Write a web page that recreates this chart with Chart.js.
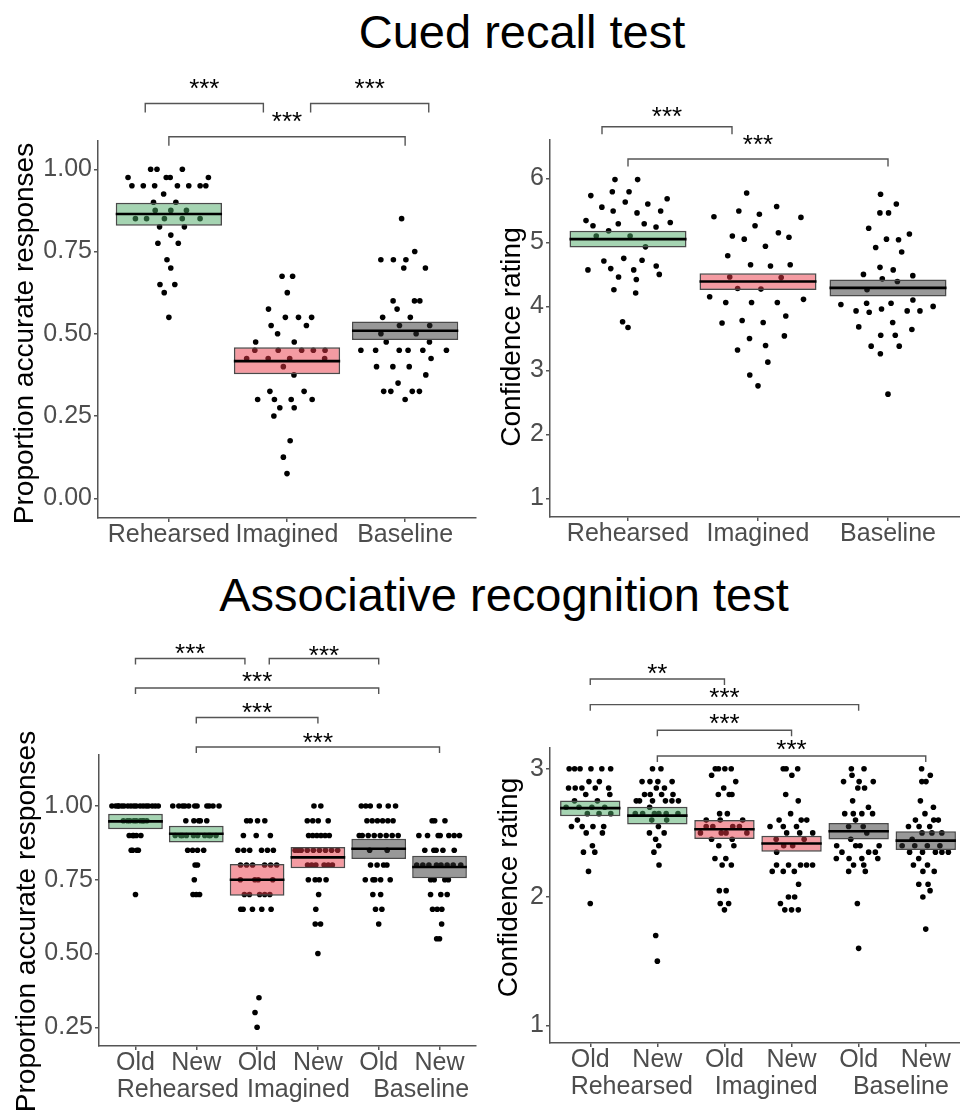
<!DOCTYPE html>
<html><head><meta charset="utf-8">
<script src="https://cdn.jsdelivr.net/npm/chart.js@4/dist/chart.umd.min.js"></script>
<style>
html,body{margin:0;padding:0;width:960px;height:1112px;overflow:hidden;background:#fff;}
body{position:relative;font-family:"Liberation Sans",Arial,sans-serif;}
.title{position:absolute;font-size:47px;line-height:47px;color:#000;white-space:nowrap;text-align:center;}
canvas{position:absolute;}
</style></head><body>
<div class="title" style="left:0;width:1044px;top:8px;">Cued recall test</div>
<div class="title" style="left:0;width:1008px;top:571px;">Associative recognition test</div>
<canvas id="c1" width="480" height="500" style="left:0;top:60px;width:480px;height:500px"></canvas>
<canvas id="c2" width="490" height="500" style="left:480px;top:60px;width:490px;height:500px"></canvas>
<canvas id="c3" width="480" height="492" style="left:0;top:620px;width:480px;height:492px"></canvas>
<canvas id="c4" width="490" height="492" style="left:480px;top:620px;width:490px;height:492px"></canvas>
<script>
// ---------- categories & tick labels ----------
const recallCats = ['Rehearsed','Imagined','Baseline'];
const recogCats = ['Old','New','Old','New','Old','New'];
const recogGroupLabels = ['Rehearsed','Imagined','Baseline'];
const accRecallTicks = [0, 0.25, 0.5, 0.75, 1.0];
const confRecallTicks = [1, 2, 3, 4, 5, 6];
const accRecogTicks = [0.25, 0.5, 0.75, 1.0];
const confRecogTicks = [1, 2, 3];

// ---------- Cued recall: proportion accurate ----------
const accRecallRehearsed = [1.0,1.0,1.0,0.975,0.975,0.975,0.975,0.95,0.95,0.95,0.95,0.95,0.95,0.95,0.925,0.9,0.9,0.875,0.875,0.875,0.85,0.85,0.85,0.85,0.85,0.825,0.825,0.8,0.775,0.775,0.725,0.7,0.65,0.65,0.625,0.55];
const accRecallImagined = [0.675,0.675,0.625,0.575,0.55,0.55,0.55,0.525,0.525,0.5,0.475,0.475,0.45,0.45,0.45,0.45,0.45,0.425,0.425,0.425,0.425,0.4,0.375,0.325,0.325,0.3,0.3,0.3,0.3,0.275,0.275,0.25,0.175,0.125,0.075];
const accRecallBaseline = [0.85,0.75,0.725,0.725,0.725,0.7,0.7,0.6,0.6,0.6,0.575,0.55,0.55,0.525,0.525,0.5,0.5,0.475,0.475,0.45,0.45,0.45,0.45,0.45,0.45,0.425,0.4,0.4,0.4,0.375,0.35,0.325,0.325,0.325,0.325,0.3];
const accRecallMean = [0.864, 0.417, 0.509];
const accRecallLow  = [0.828, 0.377, 0.481];
const accRecallHigh = [0.898, 0.459, 0.537];

// ---------- Cued recall: confidence ----------
const confRecallRehearsed = [5.98,5.98,5.79,5.79,5.73,5.68,5.63,5.60,5.55,5.49,5.49,5.46,5.34,5.31,5.29,5.29,5.26,5.24,5.18,5.10,5.10,4.93,4.75,4.72,4.71,4.63,4.59,4.57,4.57,4.50,4.46,4.42,4.26,4.21,3.76,3.67];
const confRecallImagined = [5.77,5.56,5.49,5.44,5.40,5.39,5.26,5.15,5.10,5.08,5.05,4.94,4.79,4.65,4.63,4.65,4.46,4.45,4.28,4.27,4.15,4.11,4.06,4.06,4.06,3.85,3.78,3.75,3.74,3.54,3.50,3.39,3.32,3.13,2.93,2.76];
const confRecallBaseline = [5.75,5.60,5.46,5.46,5.22,5.13,5.05,5.04,4.92,4.85,4.61,4.57,4.50,4.48,4.43,4.39,4.26,4.10,4.05,4.05,4.03,4.00,3.96,3.93,3.93,3.93,3.91,3.75,3.68,3.64,3.55,3.55,3.38,3.38,3.26,2.63];
const confRecallMean = [5.05, 4.39, 4.29];
const confRecallLow  = [4.92, 4.255, 4.156];
const confRecallHigh = [5.18, 4.516, 4.42];

// ---------- Associative recognition: proportion accurate ----------
const accRecogOldRehearsed = [1,1,1,1,1,1,1,1,1,1,1,1,1,1,1,1,1,0.95,0.95,0.95,0.95,0.95,0.95,0.95,0.95,0.95,0.9,0.9,0.9,0.9,0.9,0.85,0.85,0.85,0.85,0.7];
const accRecogNewRehearsed = [1,1,1,1,1,1,1,1,1,1,1,0.95,0.95,0.95,0.95,0.95,0.9,0.9,0.9,0.9,0.9,0.9,0.9,0.9,0.9,0.9,0.85,0.85,0.85,0.85,0.8,0.8,0.75,0.7,0.7,0.7];
const accRecogOldImagined = [0.95,0.95,0.95,0.95,0.9,0.9,0.9,0.85,0.85,0.85,0.85,0.85,0.85,0.8,0.8,0.8,0.8,0.8,0.8,0.75,0.75,0.75,0.75,0.7,0.7,0.7,0.7,0.7,0.65,0.65,0.65,0.65,0.65,0.35,0.3,0.25];
const accRecogNewImagined = [1,1,0.95,0.95,0.95,0.95,0.9,0.9,0.9,0.9,0.9,0.9,0.85,0.85,0.85,0.85,0.85,0.85,0.85,0.85,0.85,0.8,0.8,0.8,0.8,0.8,0.8,0.75,0.75,0.75,0.75,0.7,0.65,0.6,0.6,0.5];
const accRecogOldBaseline = [1,1,1,1,1,1,0.95,0.95,0.95,0.95,0.95,0.95,0.9,0.9,0.9,0.9,0.9,0.9,0.9,0.9,0.85,0.85,0.8,0.8,0.8,0.8,0.75,0.75,0.75,0.75,0.75,0.7,0.7,0.65,0.65,0.6];
const accRecogNewBaseline = [0.95,0.95,0.95,0.9,0.9,0.9,0.9,0.9,0.9,0.9,0.85,0.85,0.85,0.85,0.85,0.8,0.8,0.8,0.8,0.8,0.8,0.8,0.8,0.75,0.75,0.75,0.75,0.7,0.7,0.7,0.65,0.65,0.65,0.6,0.55,0.55];
const accRecogMean = [0.948, 0.906, 0.750, 0.826, 0.855, 0.793];
const accRecogLow  = [0.921, 0.876, 0.696, 0.789, 0.820, 0.755];
const accRecogHigh = [0.974, 0.933, 0.803, 0.861, 0.889, 0.831];

// ---------- Associative recognition: confidence ----------
const confRecogOldRehearsed = [3,3,3,3,3,3,2.9,2.9,2.85,2.85,2.85,2.85,2.85,2.8,2.8,2.75,2.75,2.7,2.7,2.7,2.7,2.65,2.65,2.65,2.6,2.55,2.55,2.55,2.55,2.5,2.5,2.4,2.35,2.35,2.2,1.95];
const confRecogNewRehearsed = [3,3,2.9,2.9,2.9,2.9,2.85,2.85,2.8,2.8,2.8,2.8,2.75,2.75,2.75,2.75,2.75,2.75,2.7,2.65,2.65,2.65,2.65,2.65,2.65,2.6,2.6,2.55,2.5,2.5,2.45,2.4,2.35,2.25,1.7,1.5];
const confRecogOldImagined = [3,3,3,3,2.95,2.9,2.85,2.8,2.8,2.8,2.65,2.65,2.6,2.6,2.6,2.55,2.55,2.55,2.55,2.5,2.5,2.5,2.5,2.45,2.45,2.4,2.4,2.3,2.3,2.25,2.25,2.05,2.05,1.95,1.95,1.9];
const confRecogNewImagined = [3,3,3,2.95,2.8,2.75,2.65,2.6,2.6,2.6,2.55,2.55,2.55,2.5,2.5,2.5,2.45,2.45,2.4,2.4,2.35,2.25,2.25,2.25,2.25,2.25,2.2,2.2,2.2,2.1,2.0,2.0,1.95,1.9,1.9,1.9];
const confRecogOldBaseline = [3,3,2.95,2.9,2.9,2.9,2.85,2.85,2.75,2.7,2.65,2.65,2.65,2.65,2.6,2.55,2.55,2.5,2.45,2.4,2.4,2.4,2.4,2.35,2.35,2.35,2.3,2.3,2.3,2.3,2.25,2.25,2.2,2.2,1.95,1.6];
const confRecogNewBaseline = [3,2.95,2.9,2.9,2.75,2.7,2.65,2.6,2.6,2.6,2.55,2.55,2.55,2.5,2.5,2.5,2.45,2.4,2.4,2.4,2.4,2.35,2.35,2.35,2.35,2.35,2.3,2.25,2.25,2.2,2.2,2.1,2.1,2.05,2.0,1.75];
const confRecogMean = [2.693, 2.635, 2.529, 2.417, 2.513, 2.440];
const confRecogLow  = [2.630, 2.565, 2.453, 2.354, 2.448, 2.367];
const confRecogHigh = [2.753, 2.703, 2.600, 2.477, 2.578, 2.513];

// ---------- styling ----------
const FONT = '"Liberation Sans", Arial, sans-serif';
Chart.defaults.font.family = FONT;
const GREEN = 'rgba(75,169,101,0.5)', RED = 'rgba(233,55,69,0.5)', GREY = 'rgba(49,49,49,0.5)';
const AXIS = '#555555', TICKTXT = '#4d4d4d';
const TICKSIZE = 25;

// ---------- quasirandom (vipor-style) horizontal offsets ----------
function vdc(i){ let q=0, b=0.5; while(i>0){ q += (i%2)*b; i=Math.floor(i/2); b/=2; } return q; }
function q7(s,p){ const h=(s.length-1)*p, lo=Math.floor(h), hi=Math.ceil(h); return s[lo]+(h-lo)*(s[hi]-s[lo]); }
function quasiOffsets(vals, width, adjust){
  const n = vals.length; if (n < 2) return vals.map(()=>0);
  const mean = vals.reduce((a,b)=>a+b,0)/n;
  const sd = Math.sqrt(vals.reduce((a,b)=>a+(b-mean)*(b-mean),0)/(n-1));
  const s = [...vals].sort((a,b)=>a-b);
  const iqr = q7(s,0.75)-q7(s,0.25);
  let lo = Math.min(sd, iqr/1.34); if (!(lo>0)) lo = sd || 1;
  const bw = 0.9*lo*Math.pow(n,-0.2)*adjust;
  const dens = y => vals.reduce((a,v)=>a+Math.exp(-0.5*((y-v)/bw)*((y-v)/bw)),0);
  let maxD = 0; const a0 = s[0]-3*bw, a1 = s[n-1]+3*bw;
  for (let i=0;i<=1024;i++) maxD = Math.max(maxD, dens(a0+(a1-a0)*i/1024));
  vals.forEach(v=>{ maxD = Math.max(maxD, dens(v)); });
  const idx = vals.map((v,i)=>i).sort((a,b)=>(vals[a]-vals[b]) || (a-b));
  const rank = new Array(n); idx.forEach((k,r)=>{ rank[k]=r+1; });
  return vals.map((v,i)=>(vdc(rank[i])*2-1)*width*dens(v)/maxD);
}

function makePanel(cfg){
  const dotSets = cfg.series.map((vals,g)=>{
    const off = quasiOffsets(vals, 0.4, 0.5);
    return { type:'scatter', data: vals.map((v,i)=>({x:g+1+off[i], y:v})),
      pointRadius:2.8, pointBackgroundColor:'#000', pointBorderWidth:0, order:3 };
  });
  const boxSet = { type:'bar', data: cfg.means.map((m,i)=>({x:i+1, y:[cfg.low[i], cfg.high[i]]})),
    backgroundColor: cfg.colors, borderColor:'#4a4a4a', borderWidth:1.5, borderSkipped:false,
    categoryPercentage:1, barPercentage:0.9, grouped:false, order:2 };
  const meanSet = { type:'scatter', data: cfg.means.map((m,i)=>({x:i+1, y:m})),
    pointStyle:'line', pointBorderColor:'#000', pointBorderWidth:2.6,
    pointRadius: (c)=>{ const s=c.chart.scales.x; return Math.abs(s.getPixelForValue(1.45)-s.getPixelForValue(1)); },
    order:1 };

  const scales = {
    x: { type:'linear', axis:'x', position:'bottom', weight:0, offset:false, min:cfg.xMin, max:cfg.xMax,
      afterBuildTicks: s=>{ s.ticks = cfg.cats.map((c,i)=>({value:i+1})); },
      afterFit: s=>{ s.height = cfg.xHeight; },
      ticks:{ autoSkip:false, maxRotation:0, minRotation:0, padding:1, color:TICKTXT,
        font:{size:TICKSIZE, lineHeight:1}, callback:(v)=>cfg.cats[Math.round(v)-1] },
      grid:{ offset:false, drawOnChartArea:false, drawTicks:true, tickLength:4, color:AXIS, lineWidth:1.5 },
      border:{ display:true, color:AXIS, width:1.5 } },
    y: { type:'linear', position:'left', offset:false, min:cfg.yMin, max:cfg.yMax, beginAtZero:false,
      afterBuildTicks: s=>{ s.ticks = cfg.yTicks.map(v=>({value:v})); },
      afterFit: s=>{ s.width = cfg.yWidth; },
      ticks:{ padding:2, color:TICKTXT, font:{size:TICKSIZE}, callback:(v)=>cfg.yFmt(v) },
      grid:{ offset:false, drawOnChartArea:false, drawTicks:true, tickLength:4, color:AXIS, lineWidth:1.5 },
      border:{ display:true, color:AXIS, width:1.5 } }
  };
  if (cfg.groupLabels){
    scales.x2 = { type:'linear', axis:'x', position:'bottom', weight:1, offset:false, min:cfg.xMin, max:cfg.xMax,
      afterBuildTicks: s=>{ s.ticks = cfg.groupPos.map(v=>({value:v})); },
      afterFit: s=>{ s.height = cfg.x2Height; },
      ticks:{ autoSkip:false, maxRotation:0, minRotation:0, padding:4, color:TICKTXT,
        font:{size:TICKSIZE, lineHeight:1}, callback:(v,i)=>cfg.groupLabels[i] },
      grid:{ display:false, offset:false, drawOnChartArea:false, drawTicks:false },
      border:{ display:false } };
  }

  const annot = {
    id:'annot'+cfg.id,
    afterDraw(chart){
      const ctx = chart.ctx, xs = chart.scales.x, ys = chart.scales.y;
      ctx.save();
      // significance brackets
      ctx.strokeStyle = '#555'; ctx.lineWidth = 1.4;
      ctx.fillStyle = '#000'; ctx.font = '26px ' + FONT;
      ctx.textAlign = 'center'; ctx.textBaseline = 'alphabetic';
      cfg.brackets.forEach(b=>{
        const x1 = xs.getPixelForValue(b.x1), x2 = xs.getPixelForValue(b.x2), yy = ys.getPixelForValue(b.y);
        ctx.beginPath(); ctx.moveTo(x1, yy+cfg.tip); ctx.lineTo(x1, yy); ctx.lineTo(x2, yy); ctx.lineTo(x2, yy+cfg.tip); ctx.stroke();
        const m = ctx.measureText(b.label);
        const c = (m.actualBoundingBoxAscent - m.actualBoundingBoxDescent)/2;
        ctx.fillText(b.label, (x1+x2)/2, yy - b.dy + c);
      });
      // y-axis title
      ctx.font = '28px ' + FONT; ctx.fillStyle = '#000';
      ctx.translate(cfg.yTitleX, cfg.yTitleY); ctx.rotate(-Math.PI/2);
      ctx.textAlign = 'center'; ctx.textBaseline = 'alphabetic';
      ctx.fillText(cfg.yTitle, 0, 0);
      ctx.restore();
    }
  };

  new Chart(document.getElementById(cfg.canvas), {
    type:'scatter',
    data:{ datasets:[...dotSets, boxSet, meanSet] },
    options:{ responsive:false, animation:false, events:[],
      layout:{ padding: cfg.padding },
      plugins:{ legend:{display:false}, tooltip:{enabled:false} },
      scales },
    plugins:[annot]
  });
}

const fmt2 = v => v.toFixed(2), fmt0 = v => String(v);

makePanel({ id:1, canvas:'c1', cats:recallCats,
  series:[accRecallRehearsed, accRecallImagined, accRecallBaseline],
  means:accRecallMean, low:accRecallLow, high:accRecallHigh, colors:[GREEN,RED,GREY],
  xMin:0.4, xMax:3.6, yMin:-0.06, yMax:1.086, yTicks:accRecallTicks, yFmt:fmt2,
  padding:{top:81, right:1, left:0, bottom:0}, yWidth:98, xHeight:42,
  yTitle:'Proportion accurate responses', yTitleX:33.3, yTitleY:273.5, tip:9,
  brackets:[ {x1:0.8,x2:1.8,y:1.2,label:'***',dy:19}, {x1:2.2,x2:3.2,y:1.2,label:'***',dy:19}, {x1:1,x2:3,y:1.099,label:'***',dy:19.4} ] });

makePanel({ id:2, canvas:'c2', cats:recallCats,
  series:[confRecallRehearsed, confRecallImagined, confRecallBaseline],
  means:confRecallMean, low:confRecallLow, high:confRecallHigh, colors:[GREEN,RED,GREY],
  xMin:0.4, xMax:3.6, yMin:0.7125, yMax:6.598, yTicks:confRecallTicks, yFmt:fmt0,
  padding:{top:80, right:2, left:0, bottom:0}, yWidth:70, xHeight:43,
  yTitle:'Confidence rating', yTitleX:40, yTitleY:277, tip:7.5,
  brackets:[ {x1:0.8,x2:1.8,y:6.806,label:'***',dy:14.4}, {x1:1,x2:3,y:6.302,label:'***',dy:19} ] });

makePanel({ id:3, canvas:'c3', cats:recogCats, groupLabels:recogGroupLabels, groupPos:[1.697,3.679,5.697],
  series:[accRecogOldRehearsed, accRecogNewRehearsed, accRecogOldImagined, accRecogNewImagined, accRecogOldBaseline, accRecogNewBaseline],
  means:accRecogMean, low:accRecogLow, high:accRecogHigh, colors:[GREEN,GREEN,RED,RED,GREY,GREY],
  xMin:0.4, xMax:6.6, yMin:0.1866, yMax:1.1728, yTicks:accRecogTicks, yFmt:fmt2,
  padding:{top:135, right:0, left:0, bottom:0}, yWidth:99, xHeight:28, x2Height:38,
  yTitle:'Proportion accurate responses', yTitleX:35, yTitleY:301.5, tip:6,
  brackets:[ {x1:1,x2:2.8,y:1.5,label:'***',dy:9}, {x1:3.2,x2:5,y:1.5,label:'***',dy:7.6},
             {x1:1,x2:5,y:1.4,label:'***',dy:11}, {x1:2,x2:4,y:1.3,label:'***',dy:9.4}, {x1:2,x2:6,y:1.2,label:'***',dy:9.4} ] });

makePanel({ id:4, canvas:'c4', cats:recogCats, groupLabels:recogGroupLabels, groupPos:[1.619,3.622,5.629],
  series:[confRecogOldRehearsed, confRecogNewRehearsed, confRecogOldImagined, confRecogNewImagined, confRecogOldBaseline, confRecogNewBaseline],
  means:confRecogMean, low:confRecogLow, high:confRecogHigh, colors:[GREEN,GREEN,RED,RED,GREY,GREY],
  xMin:0.4, xMax:6.6, yMin:0.862, yMax:3.162, yTicks:confRecogTicks, yFmt:fmt0,
  padding:{top:128, right:3, left:0, bottom:0}, yWidth:70, xHeight:28, x2Height:41,
  yTitle:'Confidence rating', yTitleX:36.7, yTitleY:267.5, tip:6,
  brackets:[ {x1:1,x2:3,y:3.7,label:'**',dy:10}, {x1:1,x2:5,y:3.5,label:'***',dy:11.7},
             {x1:2,x2:4,y:3.3,label:'***',dy:11.7}, {x1:2,x2:6,y:3.1,label:'***',dy:11} ] });
</script>
</body></html>
